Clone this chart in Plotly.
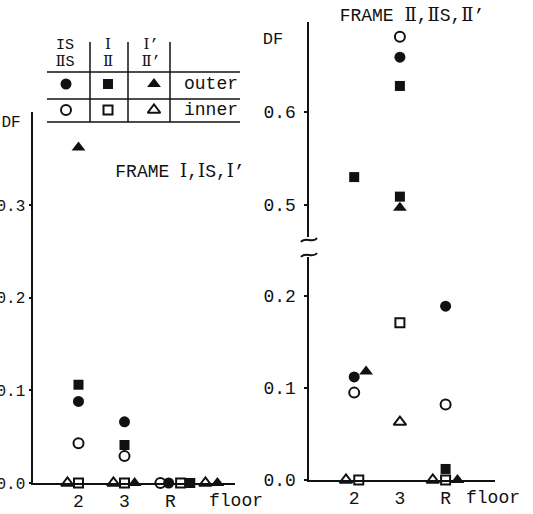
import plotly.graph_objects as go

W, H = 533, 514

# ---------------- data ----------------
floors = ["2", "3", "R"]
floor_pos = [1, 2, 3]

# FRAME Ⅰ, ⅠS, Ⅰ'  (left panel)
left_outer_circle = [0.088, 0.066, 0.0]
left_inner_circle = [0.043, 0.029, 0.0]
left_outer_square = [0.106, 0.041, 0.0]
left_inner_square = [0.0, 0.0, 0.0]
left_outer_triangle = [0.362, 0.0, 0.0]
left_inner_triangle = [0.0, 0.0, 0.0]

# FRAME Ⅱ, ⅡS, Ⅱ'  (right panel, broken axis)
right_outer_circle = [0.112, 0.659, 0.189]
right_inner_circle = [0.095, 0.681, 0.082]
right_outer_square = [0.530, 0.628, 0.012]
right_outer_square_b = [None, 0.509, None]
right_inner_square = [0.0, 0.171, 0.0]
right_outer_triangle = [0.118, 0.497, 0.0]
right_inner_triangle = [0.0, 0.063, 0.0]

left_ticks = [0.0, 0.1, 0.2, 0.3]
right_low_ticks = [0.0, 0.1, 0.2]
right_high_ticks = [0.5, 0.6]
BREAK = 0.3

# ---------------- styling ----------------
FONT = "Liberation Mono, DejaVu Serif, Noto Sans CJK JP"
INK = "#111111"
styles = {
    "outer_circle": dict(symbol="circle", size=11),
    "inner_circle": dict(symbol="circle-open", size=10),
    "outer_square": dict(symbol="square", size=10),
    "inner_square": dict(symbol="square-open", size=9),
    "outer_triangle": dict(symbol="triangle-up", size=12),
    "inner_triangle": dict(symbol="triangle-up-open", size=11),
}
# small horizontal offsets (in floor units) that keep overlapping marks apart
left_offsets = {
    "outer_circle": [0, 0, -0.04],
    "inner_circle": [0, 0, -0.22],
    "outer_square": [0, 0, 0.43],
    "inner_square": [0, 0, 0.22],
    "outer_triangle": [0, 0.22, 1.02],
    "inner_triangle": [-0.24, -0.24, 0.76],
}
right_offsets = {
    "outer_circle": [0, 0, 0],
    "inner_circle": [0, 0, 0],
    "outer_square": [0, 0, 0],
    "outer_square_b": [0, 0, 0],
    "inner_square": [0.1, 0, 0],
    "outer_triangle": [0.26, 0, 0.26],
    "inner_triangle": [-0.18, 0, -0.28],
}


def marker(key):
    s = styles[key]
    return dict(symbol=s["symbol"], size=s["size"], color=INK,
                line=dict(color=INK, width=2 if "open" in s["symbol"] else 0))


fig = go.Figure()

left_series = {
    "outer_circle": left_outer_circle,
    "inner_circle": left_inner_circle,
    "outer_square": left_outer_square,
    "inner_square": left_inner_square,
    "outer_triangle": left_outer_triangle,
    "inner_triangle": left_inner_triangle,
}
for key, vals in left_series.items():
    xs = [p + o for p, o in zip(floor_pos, left_offsets[key])]
    fig.add_trace(go.Scatter(x=xs, y=vals, mode="markers", marker=marker(key),
                             xaxis="x", yaxis="y", cliponaxis=False, showlegend=False))

right_series = {
    "outer_circle": right_outer_circle,
    "inner_circle": right_inner_circle,
    "outer_square": right_outer_square,
    "outer_square_b": right_outer_square_b,
    "inner_square": right_inner_square,
    "outer_triangle": right_outer_triangle,
    "inner_triangle": right_inner_triangle,
}
for key, vals in right_series.items():
    skey = "outer_square" if key == "outer_square_b" else key
    xs = [p + o for p, o in zip(floor_pos, right_offsets[key])]
    lo_x = [x for x, v in zip(xs, vals) if v is not None and v < BREAK]
    lo_y = [v for v in vals if v is not None and v < BREAK]
    hi_x = [x for x, v in zip(xs, vals) if v is not None and v >= BREAK]
    hi_y = [v for v in vals if v is not None and v >= BREAK]
    if lo_y:
        fig.add_trace(go.Scatter(x=lo_x, y=lo_y, mode="markers", marker=marker(skey),
                                 xaxis="x2", yaxis="y2", cliponaxis=False, showlegend=False))
    if hi_y:
        fig.add_trace(go.Scatter(x=hi_x, y=hi_y, mode="markers", marker=marker(skey),
                                 xaxis="x2", yaxis="y3", cliponaxis=False, showlegend=False))

# legend-table symbols drawn on a hidden pixel-space axis
leg_keys = ["outer_circle", "outer_square", "outer_triangle",
            "inner_circle", "inner_square", "inner_triangle"]
leg_x = [66, 108, 154, 66, 108, 154]
leg_y = [84, 84, 84, 110, 110, 110]
for k, x, y in zip(leg_keys, leg_x, leg_y):
    fig.add_trace(go.Scatter(x=[x], y=[y], mode="markers", marker=marker(k),
                             xaxis="x4", yaxis="y4", cliponaxis=False, showlegend=False))

# free texts (text, centre x, centre y, size) on the pixel-space axis
texts = [
    ("IS", 65, 45, 15), ("ⅡS", 65, 62, 15), ("Ⅰ", 108, 45, 15), ("Ⅱ", 108, 62, 15),
    ("Ⅰ’", 151, 45, 15), ("Ⅱ’", 151, 62, 15), ("outer", 211, 84, 18), ("inner", 211, 110, 18),
    ("FRAME Ⅰ,ⅠS,Ⅰ’", 180, 172, 18), ("FRAME Ⅱ,ⅡS,Ⅱ’", 412, 16, 18),
    ("DF", 11, 123, 16), ("DF", 273, 40, 17),
    ("floor", 236, 501, 18), ("floor", 493, 498, 18),
]
for t, x, y, s in texts:
    fig.add_trace(go.Scatter(x=[x], y=[y], mode="text", text=[t], textposition="middle center",
                             textfont=dict(family=FONT, size=s, color=INK),
                             xaxis="x4", yaxis="y4", cliponaxis=False, showlegend=False,
                             hoverinfo="skip"))


def px(x):
    return x / W


def py(y):
    return 1 - y / H


axis_common = dict(showline=True, linecolor=INK, linewidth=2, showgrid=False,
                   zeroline=False, layer="below traces", automargin=False,
                   tickfont=dict(family=FONT, size=18, color=INK))

fig.update_layout(
    width=W, height=H, margin=dict(l=0, r=0, t=0, b=0, autoexpand=False),
    paper_bgcolor="white", plot_bgcolor="rgba(0,0,0,0)",
    xaxis=dict(axis_common, domain=[px(32.5), px(234.9)], range=[0, 4.4],
               tickmode="array", tickvals=floor_pos, ticktext=floors,
               ticks="", ticklabelstandoff=0, anchor="y"),
    yaxis=dict(axis_common, domain=[py(483), py(112.2)], range=[0, 0.4],
               tickmode="array", tickvals=left_ticks,
               ticktext=[f"{v:.1f}" for v in left_ticks],
               tickfont=dict(family=FONT, size=16, color=INK),
               ticks="outside", ticklen=2, tickwidth=1.5, tickcolor=INK,
               ticklabelstandoff=0, anchor="x"),
    xaxis2=dict(axis_common, domain=[px(308.5), px(494.5)], range=[0, 4.07],
                tickmode="array", tickvals=floor_pos, ticktext=floors,
                ticks="", ticklabelstandoff=0, anchor="y2"),
    yaxis2=dict(axis_common, domain=[py(480), py(257.4)], range=[0, 0.242],
                tickmode="array", tickvals=right_low_ticks,
                ticktext=[f"{v:.1f}" for v in right_low_ticks],
                ticks="outside", ticklen=3, tickwidth=1.5, tickcolor=INK,
                ticklabelstandoff=4, anchor="x2"),
    yaxis3=dict(axis_common, domain=[py(236.6), py(21.8)], range=[0.466, 0.697],
                tickmode="array", tickvals=right_high_ticks,
                ticktext=[f"{v:.1f}" for v in right_high_ticks],
                ticks="outside", ticklen=3, tickwidth=1.5, tickcolor=INK,
                ticklabelstandoff=4, anchor="x2"),
    xaxis4=dict(domain=[0, 1], range=[0, W], visible=False, anchor="y4",
                fixedrange=True, automargin=False),
    yaxis4=dict(domain=[0, 1], range=[H, 0], visible=False, anchor="x4",
                fixedrange=True, automargin=False),
)

shapes = []
# legend table grid
for y in [72, 99, 122]:
    shapes.append(dict(type="line", xref="paper", yref="paper",
                       x0=px(47), x1=px(240), y0=py(y), y1=py(y),
                       line=dict(color=INK, width=1.5)))
for x in [90, 128, 170]:
    shapes.append(dict(type="line", xref="paper", yref="paper",
                       x0=px(x), x1=px(x), y0=py(42), y1=py(122),
                       line=dict(color=INK, width=1.5)))


# axis-break marks on the right axis
def tilde(cx, cy):
    pts = [(cx - 8, cy + 2), (cx - 4, cy - 4), (cx + 4, cy + 4), (cx + 8, cy - 2)]
    p = [f"{px(a):.5f},{py(b):.5f}" for a, b in pts]
    return f"M{p[0]} C{p[1]} {p[2]} {p[3]}"


for cy in [240, 255]:
    shapes.append(dict(type="path", xref="paper", yref="paper", path=tilde(309, cy),
                       line=dict(color=INK, width=1.8)))
fig.update_layout(shapes=shapes)

fig.write_html("out.html")
